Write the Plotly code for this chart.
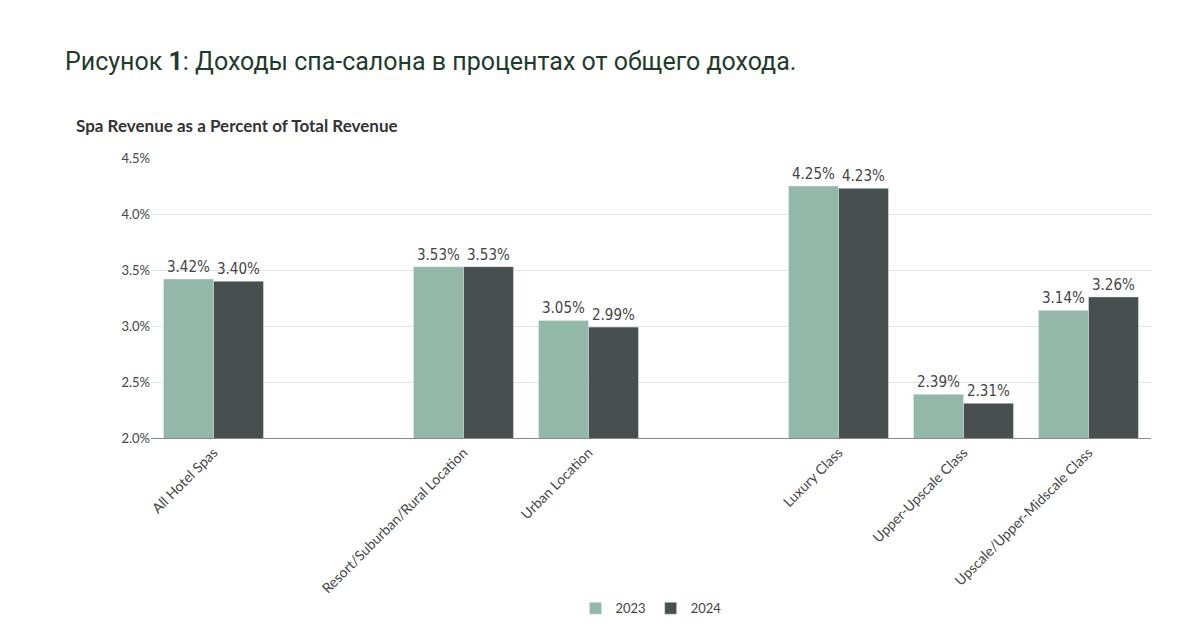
import plotly.graph_objects as go

categories = ["All Hotel Spas", " ", "Resort/Suburban/Rural Location", "Urban Location",
              "  ", "Luxury Class", "Upper-Upscale Class", "Upscale/Upper-Midscale Class"]
values_2023 = [3.42, None, 3.53, 3.05, None, 4.25, 2.39, 3.14]
values_2024 = [3.40, None, 3.53, 2.99, None, 4.23, 2.31, 3.26]


def labels(vals):
    return ["" if v is None else "%.2f%%" % v for v in vals]


fig = go.Figure()
fig.add_bar(x=categories, y=values_2023, name="2023", marker_color="#93b8aa",
            text=labels(values_2023), textposition="outside", cliponaxis=False)
fig.add_bar(x=categories, y=values_2024, name="2024", marker_color="#474f4f",
            text=labels(values_2024), textposition="outside", cliponaxis=False)

fig.update_traces(textfont=dict(family="DejaVu Sans Condensed", size=15, color="#444"))

fig.update_layout(
    width=1202, height=628,
    paper_bgcolor="white", plot_bgcolor="white",
    font=dict(family="Lato, sans-serif", color="#444"),
    barmode="group", bargap=0.2, bargroupgap=0,
    margin=dict(l=143, r=59, t=150, b=195),
    legend=dict(orientation="h", x=0.5, xanchor="center", y=-0.608, yanchor="middle",
                font=dict(size=13)),
    annotations=[
        dict(text="Рисунок <b>1</b>: Доходы спа-салона в процентах от общего дохода.",
             xref="paper", yref="paper", x=-0.088, y=1.346, xanchor="left", yanchor="middle",
             showarrow=False, font=dict(family="Roboto", size=25, color="#1f3b2b")),
        dict(text="<b>Spa Revenue as a Percent of Total Revenue</b>",
             xref="paper", yref="paper", x=-0.077, y=1.117, xanchor="left", yanchor="middle",
             showarrow=False, font=dict(family="Lato", size=17, color="#333")),
    ],
)
fig.update_yaxes(range=[2.0, 4.5], dtick=0.5, tickformat=".1f", ticksuffix="%",
                 gridcolor="#e3e3e3", zeroline=False, tickfont=dict(size=13),
                 showline=False, automargin=False)
fig.update_xaxes(tickangle=-45, showline=True, linecolor="#888", tickfont=dict(size=14),
                 ticks="", automargin=False)

fig.write_html("out.html")
